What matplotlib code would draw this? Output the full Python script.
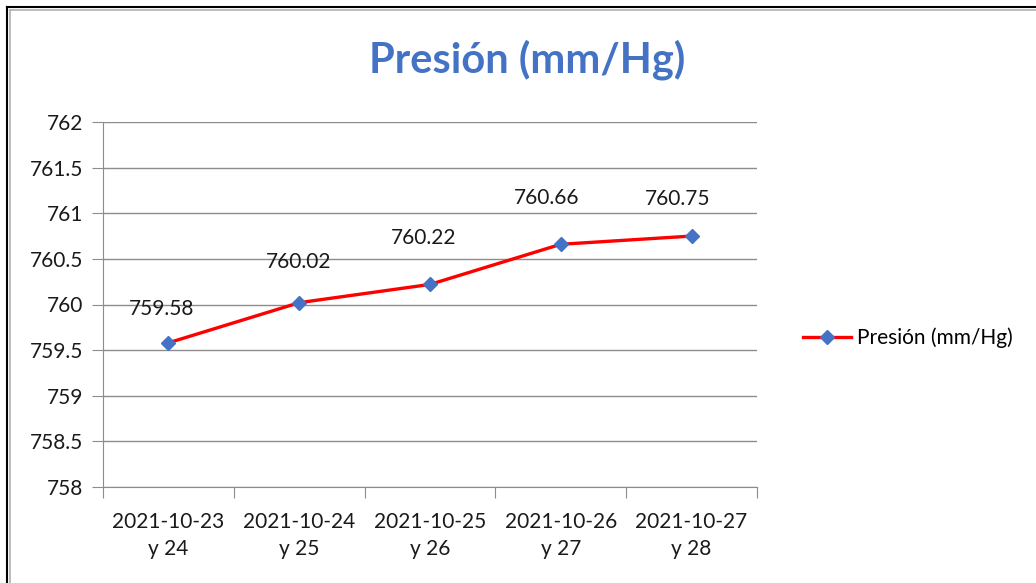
import numpy as np
import matplotlib
matplotlib.use("Agg")
import matplotlib.pyplot as plt
from matplotlib.lines import Line2D

plt.rcParams['font.family'] = ['Lato', 'DejaVu Sans']

# data
fechas = ["2021-10-23\ny 24", "2021-10-24\ny 25", "2021-10-25\ny 26",
          "2021-10-26\ny 27", "2021-10-27\ny 28"]
presion = [759.58, 760.02, 760.22, 760.66, 760.75]
y_ticks = [758, 758.5, 759, 759.5, 760, 760.5, 761, 761.5, 762]
serie = "Presión (mm/Hg)"

# where each data label sits relative to its point (pixels, as in the original)
label_off = [(-7, 34), (-1, 41), (-6, 46), (-14, 46), (-14, 37)]

W, H = 1036, 583
fig = plt.figure(figsize=(W / 100, H / 100), dpi=100)
ax = fig.add_axes([103 / W, 1 - 487 / H, (757 - 103) / W, (487 - 122) / H])

x = np.arange(len(presion))
ax.plot(x, presion, color="red", lw=2.4, marker="D", markersize=7.5,
        markerfacecolor="#4472C4", markeredgecolor="#4472C4", label=serie,
        zorder=3)

for xi, v, (dx, dy) in zip(x, presion, label_off):
    ax.annotate(f"{v:.2f}", (xi, v), xytext=(dx * 0.72, dy * 0.72),
                textcoords="offset points", ha="center", va="center",
                fontsize=15, color="#1a1a1a")

ax.set_xlim(-0.5, len(presion) - 0.5)
ax.set_ylim(758, 762)
ax.set_yticks(y_ticks)
ax.set_yticklabels([f"{t:g}" for t in y_ticks])
ax.yaxis.grid(True, color="#8c8c8c", lw=1)
ax.set_axisbelow(True)

# category boundaries as ticks, labels in the middle
ax.set_xticks(np.arange(-0.5, len(presion), 1.0))
ax.set_xticklabels([])
ax.set_xticks(x, minor=True)
ax.set_xticklabels(fechas, minor=True, linespacing=1.45)
ax.tick_params(axis="x", which="minor", length=0, pad=18, labelsize=15,
               colors="#1a1a1a")
ax.tick_params(axis="x", which="major", length=8, color="#8c8c8c")
ax.tick_params(axis="y", length=8, color="#8c8c8c", pad=6, labelsize=15,
               labelcolor="#1a1a1a")

for s in ["top", "right"]:
    ax.spines[s].set_visible(False)
for s in ["left", "bottom"]:
    ax.spines[s].set_color("#8c8c8c")

fig.text(527 / W, 1 - 60 / H, "Presión (mm/Hg)", ha="center", va="center",
         fontsize=30, fontweight="bold", color="#4472C4")

fig.legend(loc="center left", bbox_to_anchor=(793 / W, 1 - 338 / H),
           frameon=False, fontsize=15, borderpad=0, handlelength=2.3,
           handletextpad=0.25)

# chart border
fig.add_artist(Line2D([7 / W, 7 / W], [0, 1 - 7 / H], color="black", lw=1.5,
                      transform=fig.transFigure))
fig.add_artist(Line2D([7 / W, 1], [1 - 7 / H, 1 - 7 / H], color="black", lw=1.5,
                      transform=fig.transFigure))
fig.add_artist(Line2D([10 / W, 10 / W], [0, 1 - 10 / H], color="#b0b0b0", lw=1.2,
                      transform=fig.transFigure))
fig.add_artist(Line2D([10 / W, 1], [1 - 10 / H, 1 - 10 / H], color="#b0b0b0",
                      lw=1.2, transform=fig.transFigure))

fig.savefig("out.png", dpi=100)
